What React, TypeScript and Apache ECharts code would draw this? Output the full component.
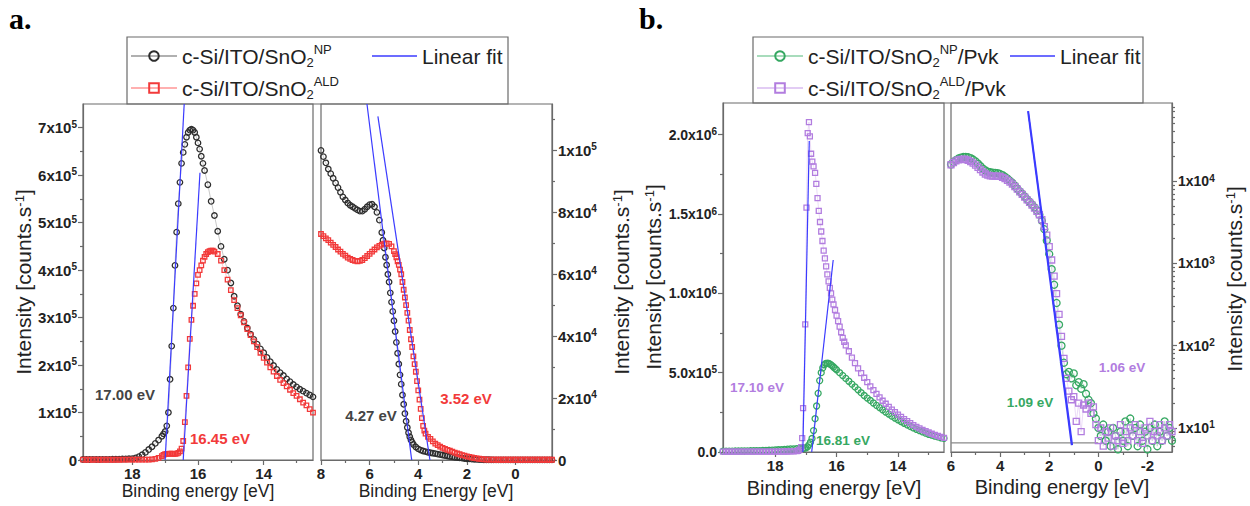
import React, { useEffect, useRef } from 'react';
import * as echarts from 'echarts';

// ---------- DATA ----------
// Panel a, left: secondary electron cut-off (binding energy [eV], intensity)
const aLeftNp = [[19.5,1000],[19.4,1000],[19.3,1000],[19.2,1200],[19.1,1000],[19.0,1100],[18.9,1200],[18.8,1200],[18.7,1300],[18.6,1500],[18.5,1600],[18.4,1800],[18.3,2000],[18.2,2200],[18.1,2600],[18.0,3000],[17.9,4500],[17.8,7000],[17.7,11000],[17.6,16000],[17.5,22000],[17.4,28000],[17.3,35000],[17.2,42000],[17.1,50000],[17.05,55000],[17.0,60000],[16.95,72000],[16.9,100000],[16.85,170000],[16.8,240000],[16.75,320000],[16.7,410000],[16.65,480000],[16.6,540000],[16.55,585000],[16.5,625000],[16.45,648000],[16.4,665000],[16.35,680000],[16.3,690000],[16.25,695000],[16.2,697000],[16.15,695000],[16.1,690000],[16.05,680000],[16.0,668000],[15.95,655000],[15.9,640000],[15.85,625000],[15.8,610000],[15.7,580000],[15.6,545000],[15.5,515000],[15.4,482000],[15.3,450000],[15.2,423000],[15.1,400000],[15.0,373000],[14.9,345000],[14.8,325000],[14.7,307000],[14.6,292000],[14.5,278000],[14.4,265000],[14.3,254000],[14.2,244000],[14.1,234000],[14.0,226000],[13.9,216000],[13.8,207000],[13.7,199000],[13.6,191000],[13.5,184000],[13.4,178000],[13.3,171000],[13.2,165000],[13.1,159000],[13.0,154000],[12.9,149000],[12.8,145000],[12.7,141000],[12.6,137000],[12.5,133000]];
const aLeftAld = [[19.5,600],[19.4,500],[19.3,600],[19.2,500],[19.1,600],[19.0,500],[18.9,600],[18.8,500],[18.7,600],[18.6,500],[18.5,600],[18.4,500],[18.3,600],[18.2,600],[18.1,700],[18.0,700],[17.9,800],[17.8,800],[17.7,900],[17.6,900],[17.5,1000],[17.4,1500],[17.3,2500],[17.2,4500],[17.1,8000],[17.05,11000],[17.0,12500],[16.95,13000],[16.9,13000],[16.85,13500],[16.8,13500],[16.75,13000],[16.7,13000],[16.65,13500],[16.6,15000],[16.55,18000],[16.5,24000],[16.45,40000],[16.4,80000],[16.35,135000],[16.3,195000],[16.25,255000],[16.2,295000],[16.15,325000],[16.1,350000],[16.05,372000],[16.0,390000],[15.95,400000],[15.9,410000],[15.85,420000],[15.8,428000],[15.75,434000],[15.7,438000],[15.65,440000],[15.6,441000],[15.55,441000],[15.5,439000],[15.4,434000],[15.3,420000],[15.2,400000],[15.1,380000],[15.0,358000],[14.9,337000],[14.8,320000],[14.7,305000],[14.6,290000],[14.5,276000],[14.4,263000],[14.3,250000],[14.2,238000],[14.1,226000],[14.0,215000],[13.9,205000],[13.8,195000],[13.7,186000],[13.6,177000],[13.5,169000],[13.4,162000],[13.3,155000],[13.2,148000],[13.1,141000],[13.0,135000],[12.9,128000],[12.8,121000],[12.7,115000],[12.6,107000],[12.5,100000]];
const aLeftFitNp = [[16.42,750000],[17.0,0]];
const aLeftFitAld = [[15.94,605000],[16.45,0]];

// Panel a, right: valence band onset
const aRightNp = [[8.0,100000],[7.9,98000],[7.8,96000],[7.7,94000],[7.6,92500],[7.5,91000],[7.4,89500],[7.3,88000],[7.2,86500],[7.1,85000],[7.0,84000],[6.9,83000],[6.8,82300],[6.7,81800],[6.6,81300],[6.5,80800],[6.4,80400],[6.3,80400],[6.2,81000],[6.1,81800],[6.0,82500],[5.9,82600],[5.8,81800],[5.7,80000],[5.6,77500],[5.5,73500],[5.45,71000],[5.4,68500],[5.35,65500],[5.3,63000],[5.25,60000],[5.2,57500],[5.15,54000],[5.1,51000],[5.05,48000],[5.0,45000],[4.95,41500],[4.9,38000],[4.85,34500],[4.8,31000],[4.75,27500],[4.7,24500],[4.65,21000],[4.6,18000],[4.55,15000],[4.5,12500],[4.45,10500],[4.4,8800],[4.35,7500],[4.3,6500],[4.25,5700],[4.2,5000],[4.1,4200],[4.0,3600],[3.9,3200],[3.8,2900],[3.7,2700],[3.6,2500],[3.5,2350],[3.4,2200],[3.3,2050],[3.2,1900],[3.1,1750],[3.0,1600],[2.9,1450],[2.8,1300],[2.7,1150],[2.6,1000],[2.5,900],[2.4,800],[2.3,700],[2.2,600],[2.1,500],[2.0,400],[1.9,350],[1.8,300],[1.7,250],[1.6,200],[1.5,150],[1.4,120],[1.3,100],[1.2,80],[1.1,70],[1.0,60],[0.9,55],[0.8,50],[0.7,50],[0.6,50],[0.5,45],[0.4,40],[0.3,40],[0.2,40],[0.1,40],[0.0,40],[-0.1,35],[-0.2,30],[-0.3,30],[-0.4,30],[-0.5,30],[-0.6,30],[-0.7,30],[-0.8,30],[-0.9,30],[-1.0,30],[-1.1,30],[-1.2,30],[-1.3,30],[-1.4,30],[-1.5,30]];
const aRightAld = [[8.0,73000],[7.9,72300],[7.8,71600],[7.7,71000],[7.6,70200],[7.5,69500],[7.4,68800],[7.3,68000],[7.2,67300],[7.1,66600],[7.0,66000],[6.9,65400],[6.8,65000],[6.7,64600],[6.6,64300],[6.5,64200],[6.4,64300],[6.3,64600],[6.2,65200],[6.1,65900],[6.0,66600],[5.9,67300],[5.8,68000],[5.7,68700],[5.6,69200],[5.5,69600],[5.4,69900],[5.3,70000],[5.2,69800],[5.1,69000],[5.0,67500],[4.95,66500],[4.9,65500],[4.85,64200],[4.8,63000],[4.75,61500],[4.7,60000],[4.65,57500],[4.6,55000],[4.55,52500],[4.5,50000],[4.45,47500],[4.4,45000],[4.35,42000],[4.3,39000],[4.25,36500],[4.2,33500],[4.15,31000],[4.1,28500],[4.05,25500],[4.0,22500],[3.95,19500],[3.9,16500],[3.85,13500],[3.8,11000],[3.75,9500],[3.7,8500],[3.6,7500],[3.5,6800],[3.4,6000],[3.3,5300],[3.2,4800],[3.1,4300],[3.0,3900],[2.9,3600],[2.8,3300],[2.7,3000],[2.6,2700],[2.5,2400],[2.4,2100],[2.3,1850],[2.2,1600],[2.1,1400],[2.0,1200],[1.9,1000],[1.8,800],[1.7,650],[1.6,500],[1.5,400],[1.4,300],[1.3,220],[1.2,150],[1.1,120],[1.0,100],[0.9,90],[0.8,80],[0.7,80],[0.6,80],[0.5,80],[0.4,80],[0.3,80],[0.2,80],[0.1,80],[0.0,80],[-0.1,80],[-0.2,80],[-0.3,80],[-0.4,80],[-0.5,80],[-0.6,80],[-0.7,80],[-0.8,80],[-0.9,80],[-1.0,80],[-1.1,80],[-1.2,80],[-1.3,80],[-1.4,80],[-1.5,80]];
const aRightFitNp = [[6.11,115000],[4.27,0]];
const aRightFitAld = [[5.66,111000],[3.52,0]];

// Panel b, left: cut-off with perovskite
const bLeftNp = [[19.7,5000],[19.6,5000],[19.5,5500],[19.4,5500],[19.3,6000],[19.2,6000],[19.1,6500],[19.0,7000],[18.9,7000],[18.8,7500],[18.7,8000],[18.6,8500],[18.5,9000],[18.4,9500],[18.3,10000],[18.2,11000],[18.1,12000],[18.0,13000],[17.9,14000],[17.8,15000],[17.7,16000],[17.6,17500],[17.5,19000],[17.4,20000],[17.3,21000],[17.2,22000],[17.1,23000],[17.05,24000],[17.0,26000],[16.95,32000],[16.9,45000],[16.85,62000],[16.8,85000],[16.75,135000],[16.7,210000],[16.65,290000],[16.6,370000],[16.55,450000],[16.5,500000],[16.45,530000],[16.4,550000],[16.35,558000],[16.3,560000],[16.25,558000],[16.2,552000],[16.15,545000],[16.1,536000],[16.05,527000],[16.0,518000],[15.9,500000],[15.8,482000],[15.7,464000],[15.6,446000],[15.5,428000],[15.4,410000],[15.3,392000],[15.2,374000],[15.1,356000],[15.0,340000],[14.9,325000],[14.8,309000],[14.7,294000],[14.6,280000],[14.5,266000],[14.4,252000],[14.3,239000],[14.2,226000],[14.1,214000],[14.0,203000],[13.9,192000],[13.8,181000],[13.7,171000],[13.6,161000],[13.5,152000],[13.4,143000],[13.3,135000],[13.2,127000],[13.1,119000],[13.0,112000],[12.9,106000],[12.8,100000],[12.7,95000],[12.6,90000],[12.5,86000]];
const bLeftAld = [[19.7,2000],[19.6,2000],[19.5,2000],[19.4,2000],[19.3,2000],[19.2,2000],[19.1,2000],[19.0,2000],[18.9,2000],[18.8,2000],[18.7,2000],[18.6,2000],[18.5,2000],[18.4,2000],[18.3,2000],[18.2,2000],[18.1,2500],[18.0,2500],[17.9,2500],[17.8,2500],[17.7,3000],[17.6,3000],[17.5,3500],[17.4,4000],[17.3,5000],[17.25,8000],[17.2,15000],[17.15,30000],[17.12,88000],[17.09,277000],[17.02,805000],[16.98,1540000],[16.94,2010000],[16.9,2080000],[16.87,1990000],[16.83,1880000],[16.79,1830000],[16.75,1800000],[16.7,1760000],[16.66,1690000],[16.62,1600000],[16.58,1520000],[16.54,1450000],[16.5,1390000],[16.46,1330000],[16.42,1270000],[16.38,1220000],[16.34,1170000],[16.3,1120000],[16.26,1075000],[16.22,1035000],[16.18,1000000],[16.14,960000],[16.1,930000],[16.05,895000],[16.0,860000],[15.95,825000],[15.9,790000],[15.85,755000],[15.8,720000],[15.75,695000],[15.7,672000],[15.6,635000],[15.5,595000],[15.4,560000],[15.3,527000],[15.2,497000],[15.1,468000],[15.0,440000],[14.9,414000],[14.8,390000],[14.7,366000],[14.6,344000],[14.5,323000],[14.4,304000],[14.3,285000],[14.2,267000],[14.1,251000],[14.0,235000],[13.9,221000],[13.8,207000],[13.7,194000],[13.6,182000],[13.5,170000],[13.4,159000],[13.3,149000],[13.2,140000],[13.1,131000],[13.0,123000],[12.9,115000],[12.8,108000],[12.7,101000],[12.6,95000],[12.5,89000]];
const bLeftFitNp = [[16.11,1210000],[16.81,0]];
const bLeftFitAld = [[16.89,1960000],[17.10,0]];

// Panel b, right: valence band (log scale)
const bRightNp = [[6.0,16000],[5.9,17000],[5.8,18000],[5.7,18800],[5.6,19300],[5.5,19600],[5.4,19700],[5.3,19500],[5.2,19000],[5.1,18300],[5.0,17400],[4.9,16300],[4.8,15200],[4.7,14200],[4.6,13500],[4.5,13000],[4.4,12800],[4.3,12700],[4.2,12600],[4.1,12500],[4.0,12200],[3.9,11800],[3.8,11300],[3.7,10700],[3.6,10100],[3.5,9500],[3.4,8800],[3.3,8100],[3.2,7500],[3.1,7000],[3.0,6500],[2.9,6000],[2.8,5600],[2.7,5200],[2.6,4800],[2.5,4400],[2.4,3900],[2.3,3300],[2.2,2600],[2.1,1900],[2.0,1300],[1.9,850],[1.8,550],[1.7,330],[1.6,180],[1.5,100],[1.4,62],[1.3,45],[1.2,48],[1.1,40],[1.0,46],[0.9,33],[0.8,36],[0.7,30],[0.6,34],[0.5,26],[0.4,22],[0.3,20],[0.2,15],[0.1,13],[0.0,10],[-0.1,8],[-0.2,11],[-0.3,7],[-0.4,9],[-0.5,6],[-0.6,10],[-0.7,8],[-0.8,5.5],[-0.9,9],[-1.0,7],[-1.1,12],[-1.2,6],[-1.3,13],[-1.4,8],[-1.5,10],[-1.6,6],[-1.7,11],[-1.8,7],[-1.9,9],[-2.0,5.5],[-2.1,10],[-2.2,7],[-2.3,11],[-2.4,6],[-2.5,9],[-2.6,7],[-2.7,12],[-2.8,8],[-2.9,10],[-3.0,7]];
const bRightAld = [[6.0,15800],[5.9,16800],[5.8,17600],[5.7,18100],[5.6,18400],[5.5,18500],[5.4,18300],[5.3,17900],[5.2,17300],[5.1,16500],[5.0,15600],[4.9,14700],[4.8,13800],[4.7,12900],[4.6,12200],[4.5,11800],[4.4,11600],[4.3,11500],[4.2,11500],[4.1,11500],[4.0,11400],[3.9,11100],[3.8,10700],[3.7,10200],[3.6,9700],[3.5,9200],[3.4,8600],[3.3,8000],[3.2,7400],[3.1,6900],[3.0,6400],[2.9,5900],[2.8,5500],[2.7,5100],[2.6,4700],[2.5,4300],[2.4,3900],[2.3,3400],[2.2,2800],[2.1,2200],[2.0,1600],[1.9,1100],[1.8,700],[1.7,430],[1.6,240],[1.5,130],[1.4,70],[1.3,40],[1.2,28],[1.1,22],[1.0,24],[0.9,12],[0.8,20],[0.7,9],[0.6,19],[0.5,17],[0.4,20],[0.3,15],[0.2,18],[0.1,11],[0.0,7],[-0.1,10],[-0.2,6],[-0.3,9],[-0.4,7.5],[-0.5,10],[-0.6,6],[-0.7,8],[-0.8,7],[-0.9,11],[-1.0,6.5],[-1.1,9],[-1.2,7],[-1.3,10],[-1.4,8],[-1.5,11],[-1.6,7],[-1.7,9],[-1.8,6.5],[-1.9,10],[-2.0,8],[-2.1,12],[-2.2,7],[-2.3,9],[-2.4,8],[-2.5,11],[-2.6,7],[-2.7,10],[-2.8,8],[-2.9,11],[-3.0,9]];
const bRightBase = [[6.0,6.6],[0.0,6.6]];
const bRightFitNp = [[2.87,71000],[1.09,6.2]];
const bRightFitAld = [[2.85,71000],[1.06,6.2]];

// Tick values
const aLeftXMajor = [14, 16, 18];
const aLeftXMinor = [13, 15, 17, 19];
const aLeftYMajor = [0, 100000, 200000, 300000, 400000, 500000, 600000, 700000];
const aLeftYMinor = [50000, 150000, 250000, 350000, 450000, 550000, 650000];
const aRightXMajor = [0, 2, 4, 6, 8];
const aRightXMinor = [-1, 1, 3, 5, 7];
const aRightYMajor = [0, 20000, 40000, 60000, 80000, 100000];
const aRightYMinor = [10000, 30000, 50000, 70000, 90000, 110000];
const bLeftXMajor = [14, 16, 18];
const bLeftXMinor = [13, 15, 17, 19];
const bLeftYMajor = [0, 500000, 1000000, 1500000, 2000000];
const bLeftYMinor = [250000, 750000, 1250000, 1750000];
const bRightXMajor = [-2, 0, 2, 4, 6];
const bRightXMinor = [-1, 1, 3, 5];
const bRightYMajor = [10, 100, 1000, 10000];
const bRightYMinor = [6, 7, 8, 9, 20, 30, 40, 50, 60, 70, 80, 90, 200, 300, 400, 500, 600, 700, 800, 900, 2000, 3000, 4000, 5000, 6000, 7000, 8000, 9000, 20000, 30000, 40000, 50000, 60000, 70000, 80000];

// ---------- STYLE ----------
const FONT = 'Arial, "Liberation Sans", Helvetica, sans-serif';
const AX = '#6a6a6a';
const TXT = '#222';
const BLACK = '#2e2e2e';
const RED = '#f23a3a';
const GREEN = '#36a862';
const PURPLE = '#b27ddf';
const BLUE = '#3b3bff';

const makeRich = (fs: number) => ({
  n: { fontFamily: FONT, fontWeight: 'bold', fontSize: fs, color: TXT, lineHeight: fs + 2 },
  s: { fontFamily: FONT, fontWeight: 'bold', fontSize: Math.round(fs * 0.68), color: TXT, lineHeight: 8, verticalAlign: 'top' },
});
const sup = (m: string, e: number) => `{n|${m}x10}{s|${e}}`;

function xMain(grid: number, min: number, max: number, vals: number[], fs: number) {
  return {
    type: 'value', gridIndex: grid, min, max, inverse: true, position: 'bottom',
    axisLine: { show: true, onZero: false, lineStyle: { color: AX, width: 1.2 } },
    axisTick: { show: true, inside: false, length: 5, customValues: vals, lineStyle: { color: AX, width: 1.2 } },
    axisLabel: { customValues: vals, margin: 6, fontFamily: FONT, fontWeight: 'bold', fontSize: fs, color: TXT },
    splitLine: { show: false },
  };
}
function xMinor(grid: number, min: number, max: number, vals: number[]) {
  return {
    type: 'value', gridIndex: grid, min, max, inverse: true, position: 'bottom',
    axisLine: { show: false, onZero: false },
    axisTick: { show: true, length: 3, customValues: vals, lineStyle: { color: AX, width: 1.2 } },
    axisLabel: { show: false },
    splitLine: { show: false },
  };
}
function yMain(grid: number, min: number, max: number, vals: number[], pos: string, fmt: (v: number) => string, fs: number, type = 'value') {
  return {
    type, logBase: 10, gridIndex: grid, min, max, position: pos,
    axisLine: { show: true, onZero: false, lineStyle: { color: AX, width: 1.2 } },
    axisTick: { show: true, length: 5, customValues: vals, lineStyle: { color: AX, width: 1.2 } },
    axisLabel: {
      customValues: vals, margin: 6, formatter: fmt, rich: makeRich(fs),
      fontFamily: FONT, fontWeight: 'bold', fontSize: fs, color: TXT,
    },
    splitLine: { show: false },
  };
}
function yMinor(grid: number, min: number, max: number, vals: number[], pos: string, type = 'value') {
  return {
    type, logBase: 10, gridIndex: grid, min, max, position: pos,
    axisLine: { show: false, onZero: false },
    axisTick: { show: true, length: 3, customValues: vals, lineStyle: { color: AX, width: 1.2 } },
    axisLabel: { show: false },
    splitLine: { show: false },
  };
}

const fmtALeft = (v: number) => (v === 0 ? '{n|0}' : sup(String(Math.round(v / 1e5)), 5));
const fmtARight = (v: number) => (v === 0 ? '{n|0}' : v >= 100000 ? sup(String(Math.round(v / 1e5)), 5) : sup(String(Math.round(v / 1e4)), 4));
const fmtBLeft = (v: number) => {
  if (v === 0) return '{n|0.0}';
  const e = Math.floor(Math.log10(v) + 1e-9);
  return sup((v / Math.pow(10, e)).toFixed(1), e);
};
const fmtBRight = (v: number) => sup('1', Math.round(Math.log10(v)));

function scatterLine(name: string, data: number[][], xi: number, yi: number, color: string, lineColor: string, symbol: string, size: number) {
  return {
    name, type: 'line', xAxisIndex: xi, yAxisIndex: yi, data,
    symbol, symbolSize: size, showSymbol: true, showAllSymbol: true,
    itemStyle: { color: 'rgba(255,255,255,0)', borderColor: color, borderWidth: 1.3 },
    lineStyle: { color: lineColor, width: 0.7 },
    emphasis: { disabled: true }, z: 2,
  };
}
function fitLine(data: number[][], xi: number, yi: number, width = 1.2) {
  return {
    name: 'Linear fit', type: 'line', xAxisIndex: xi, yAxisIndex: yi, data,
    symbol: 'none', itemStyle: { color: BLUE }, lineStyle: { color: BLUE, width },
    emphasis: { disabled: true }, z: 4,
  };
}

const legendText: Record<string, string> = {
  'NP-a': 'c-Si/ITO/SnO{sub|2}{sup|NP}',
  'ALD-a': 'c-Si/ITO/SnO{sub|2}{sup|ALD}',
  'NP-b': 'c-Si/ITO/SnO{sub|2}{sup|NP}/Pvk',
  'ALD-b': 'c-Si/ITO/SnO{sub|2}{sup|ALD}/Pvk',
  'Linear fit': 'Linear fit',
};
const makeLegendStyle = () => ({
  fontFamily: FONT, fontSize: 21, color: TXT, lineHeight: 26,
  rich: {
    sub: { fontFamily: FONT, fontSize: 13, color: TXT, lineHeight: 10, verticalAlign: 'bottom' },
    sup: { fontFamily: FONT, fontSize: 13, color: TXT, lineHeight: 12, verticalAlign: 'top' },
  },
});
function legend(name: string, left: number, top: number, isFit = false) {
  return {
    data: isFit ? [{ name, icon: 'rect' }] : [name],
    left, top, padding: 0, orient: 'horizontal',
    itemWidth: isFit ? 45 : 46, itemHeight: isFit ? 1.5 : 12,
    selectedMode: false,
    formatter: (n: string) => legendText[n] ?? n,
    textStyle: makeLegendStyle(),
  };
}

function yTitle(x: number, y: number, fs: number) {
  return {
    type: 'text', x, y, rotation: Math.PI / 2, silent: true,
    style: {
      text: 'Intensity [counts.s{s|-1}]', fontFamily: FONT, fontSize: fs, fill: TXT,
      align: 'center', verticalAlign: 'middle',
      rich: { s: { fontFamily: FONT, fontSize: Math.round(fs * 0.62), fill: TXT, lineHeight: 12, verticalAlign: 'top' } },
    },
  };
}
function xTitle(x: number, y: number, text: string, fs: number) {
  return {
    type: 'text', x, y, silent: true,
    style: { text, fontFamily: FONT, fontSize: fs, fill: TXT, align: 'center', verticalAlign: 'middle' },
  };
}
function note(x: number, y: number, text: string, color: string, fs: number) {
  return {
    type: 'text', x, y, silent: true, z: 10,
    style: { text, fontFamily: FONT, fontWeight: 'bold', fontSize: fs, fill: color, align: 'center', verticalAlign: 'middle' },
  };
}

const option = {
  animation: false,
  backgroundColor: '#ffffff',
  grid: [
    { left: 83, top: 104, width: 230, height: 356, show: true, borderColor: AX, borderWidth: 1.2, backgroundColor: 'transparent' },
    { left: 321, top: 104, width: 231, height: 356, show: true, borderColor: AX, borderWidth: 1.2, backgroundColor: 'transparent' },
    { left: 723, top: 103, width: 221, height: 349, show: true, borderColor: AX, borderWidth: 1.2, backgroundColor: 'transparent' },
    { left: 951, top: 103, width: 221, height: 349, show: true, borderColor: AX, borderWidth: 1.2, backgroundColor: 'transparent' },
  ],
  xAxis: [
    xMain(0, 12.5, 19.5, aLeftXMajor, 15),
    xMinor(0, 12.5, 19.5, aLeftXMinor),
    xMain(1, -1.5, 8, aRightXMajor, 15),
    xMinor(1, -1.5, 8, aRightXMinor),
    xMain(2, 12.5, 19.7, bLeftXMajor, 15),
    xMinor(2, 12.5, 19.7, bLeftXMinor),
    xMain(3, -3, 6, bRightXMajor, 15),
    xMinor(3, -3, 6, bRightXMinor),
  ],
  yAxis: [
    yMain(0, 0, 750000, aLeftYMajor, 'left', fmtALeft, 15),
    yMinor(0, 0, 750000, aLeftYMinor, 'left'),
    yMain(1, 0, 115000, aRightYMajor, 'right', fmtARight, 15),
    yMinor(1, 0, 115000, aRightYMinor, 'right'),
    yMain(2, 0, 2200000, bLeftYMajor, 'left', fmtBLeft, 14),
    yMinor(2, 0, 2200000, bLeftYMinor, 'left'),
    yMain(3, 5.1, 89000, bRightYMajor, 'right', fmtBRight, 14, 'log'),
    yMinor(3, 5.1, 89000, bRightYMinor, 'right', 'log'),
  ],
  legend: [
    legend('NP-a', 130, 43),
    legend('Linear fit', 372, 43, true),
    legend('ALD-a', 130, 75),
    legend('NP-b', 756, 43),
    legend('Linear fit', 1010, 43, true),
    legend('ALD-b', 756, 75),
  ],
  series: [
    scatterLine('NP-a', aLeftNp, 0, 0, BLACK, '#b0b0b0', 'circle', 5.5),
    scatterLine('ALD-a', aLeftAld, 0, 0, RED, '#ffb0b0', 'rect', 4.5),
    fitLine(aLeftFitNp, 0, 0),
    fitLine(aLeftFitAld, 0, 0),
    scatterLine('NP-a', aRightNp, 2, 2, BLACK, '#b0b0b0', 'circle', 5.5),
    scatterLine('ALD-a', aRightAld, 2, 2, RED, '#ffb0b0', 'rect', 4.5),
    fitLine(aRightFitNp, 2, 2),
    fitLine(aRightFitAld, 2, 2),
    scatterLine('NP-b', bLeftNp, 4, 4, GREEN, '#a8dcbc', 'circle', 6),
    scatterLine('ALD-b', bLeftAld, 4, 4, PURPLE, '#e2ccf4', 'rect', 5),
    fitLine(bLeftFitNp, 4, 4),
    fitLine(bLeftFitAld, 4, 4),
    {
      name: 'base', type: 'line', xAxisIndex: 6, yAxisIndex: 6, data: bRightBase, symbol: 'none',
      lineStyle: { color: '#8a8a8a', width: 1.2 }, emphasis: { disabled: true }, z: 1,
    },
    scatterLine('NP-b', bRightNp, 6, 6, GREEN, '#a8dcbc', 'circle', 7),
    scatterLine('ALD-b', bRightAld, 6, 6, PURPLE, '#e2ccf4', 'rect', 6),
    fitLine(bRightFitNp, 6, 6, 1.6),
    fitLine(bRightFitAld, 6, 6, 1.6),
  ],
  graphic: [
    { type: 'rect', silent: true, shape: { x: 127, y: 37, width: 381, height: 67 }, style: { fill: 'none', stroke: AX, lineWidth: 1.2 } },
    { type: 'rect', silent: true, shape: { x: 753, y: 37, width: 390, height: 66 }, style: { fill: 'none', stroke: AX, lineWidth: 1.2 } },
    { type: 'text', x: 9, y: 18, silent: true, style: { text: 'a.', fontFamily: '"Times New Roman", "Liberation Serif", serif', fontWeight: 'bold', fontSize: 30, fill: '#000', verticalAlign: 'middle' } },
    { type: 'text', x: 639, y: 18, silent: true, style: { text: 'b.', fontFamily: '"Times New Roman", "Liberation Serif", serif', fontWeight: 'bold', fontSize: 30, fill: '#000', verticalAlign: 'middle' } },
    yTitle(23, 282, 21),
    yTitle(621, 282, 21),
    yTitle(653, 277, 21),
    yTitle(1234, 279, 21),
    xTitle(198, 491, 'Binding energy [eV]', 17.5),
    xTitle(436, 491, 'Binding Energy [eV]', 17.5),
    xTitle(834, 488, 'Binding energy [eV]', 20),
    xTitle(1062, 487, 'Binding energy [eV]', 20),
    note(125, 394, '17.00 eV', '#444444', 15),
    note(220, 438, '16.45 eV', RED, 15),
    note(371, 415, '4.27 eV', '#444444', 15),
    note(466, 398, '3.52 eV', RED, 15),
    note(757, 387, '17.10 eV', PURPLE, 13.5),
    note(843, 440, '16.81 eV', GREEN, 13.5),
    note(1030, 402, '1.09 eV', GREEN, 13.5),
    note(1122, 367, '1.06 eV', PURPLE, 13.5),
  ],
};

export default function App() {
  const ref = useRef<HTMLDivElement>(null);
  useEffect(() => {
    if (!ref.current) return;
    const chart = echarts.init(ref.current, null, { renderer: 'svg' });
    chart.setOption(option as any);
    return () => chart.dispose();
  }, []);
  return (
    <div
      ref={ref}
      style={{ position: 'absolute', left: 0, top: 0, width: 1250, height: 506, background: '#fff' }}
    />
  );
}
